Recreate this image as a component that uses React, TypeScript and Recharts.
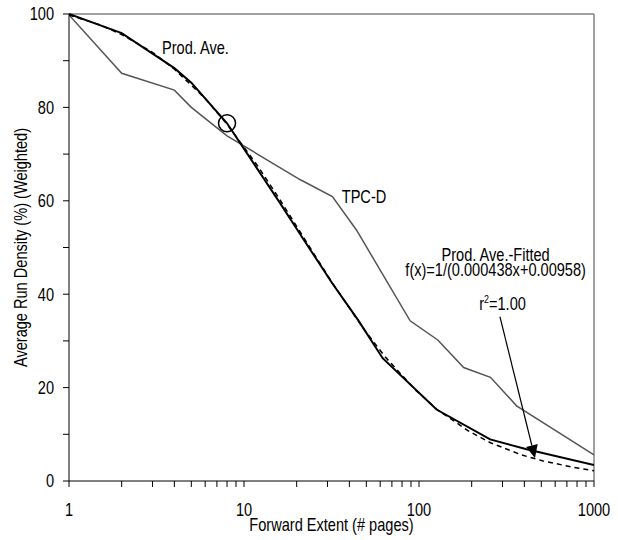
import { LineChart, Line, XAxis, YAxis, ReferenceLine, ReferenceDot, Label } from "recharts";

// Liberation Sans squeezed horizontally stands in for a narrow face
const FONT = '"Liberation Sans", Arial, sans-serif';
const FS = 18;
const SQUEEZE = 0.81;

// forward extent (pages) vs. average run density (%)
const prodExtent = [1, 2, 4, 5, 8, 16, 22, 32, 45, 62, 126, 255, 412, 1000];
const prodDensity = [100, 95.9, 88.4, 85.3, 76.6, 59.6, 51.6, 42.3, 34.4, 26.3, 15.3, 8.9, 6.8, 3.4];

const tpcExtent = [1, 2, 4, 5, 8, 21, 32, 44, 89, 128, 180, 256, 361, 1000];
const tpcDensity = [99.8, 87.3, 83.7, 80, 73.9, 64.5, 60.9, 53.7, 34.3, 30.2, 24.3, 22.2, 16.1, 5.6];

const fitExtent = [1, 1.5, 2, 3, 4, 6, 8, 12, 16, 24, 32, 48, 64, 96, 128, 192, 256, 384, 512, 768, 1000];
const fitDensity = [99.8, 97.7, 95.6, 91.8, 88.2, 81.9, 76.4, 67.4, 60.3, 49.8, 42.4, 32.7, 26.6, 19.4, 15.2, 10.7, 8.2, 5.6, 4.3, 2.9, 2.2];

const xTicks = [1, 2, 3, 4, 5, 6, 7, 8, 9, 10, 20, 30, 40, 50, 60, 70, 80, 90, 100, 200, 300, 400, 500, 600, 700, 800, 900, 1000];
const xLabels = [1, 10, 100, 1000];
const yTicks = [0, 10, 20, 30, 40, 50, 60, 70, 80, 90, 100];
const yLabels = [0, 20, 40, 60, 80, 100];

const toPoints = (xs: number[], ys: number[]) => xs.map((x, i) => ({ x, y: ys[i] }));

const prodAve = toPoints(prodExtent, prodDensity);
const tpcD = toPoints(tpcExtent, tpcDensity);
const fitted = toPoints(fitExtent, fitDensity);

// text drawn at a baseline point, condensed around it
const Narrow = ({ x, y, anchor = "middle", rotate = 0, children }: any) => (
  <text
    transform={`translate(${x}, ${y})${rotate ? ` rotate(${rotate})` : ""} scale(${SQUEEZE}, 1)`}
    textAnchor={anchor}
    fontFamily={FONT}
    fontSize={FS}
    fill="#000"
  >
    {children}
  </text>
);

const XTick = (p: any) => {
  const v = p.payload.value;
  if (!xLabels.includes(v)) return null;
  return (
    <Narrow x={p.x} y={p.y + 12.5}>
      {String(v)}
    </Narrow>
  );
};

const YTick = (p: any) => {
  const v = p.payload.value;
  if (!yLabels.includes(v)) return null;
  return (
    <Narrow x={p.x} y={p.y + 6.4} anchor="end">
      {String(v)}
    </Narrow>
  );
};

const note = (lines: string[]) => (p: any) => (
  <g>
    {lines.map((l, i) => (
      <Narrow key={i} x={p.cx} y={p.cy + i * 15.6}>
        {l}
      </Narrow>
    ))}
  </g>
);

const rSquared = (p: any) => (
  <Narrow x={p.cx} y={p.cy}>
    r<tspan dy={-7} fontSize={11}>2</tspan>
    <tspan dy={7}>=1.00</tspan>
  </Narrow>
);

const Arrow = (p: any) => {
  const { x1, y1, x2, y2 } = p;
  const dx = x2 - x1;
  const dy = y2 - y1;
  const len = Math.hypot(dx, dy);
  const ux = dx / len;
  const uy = dy / len;
  const hl = 13;
  const hw = 6;
  const bx = x2 - ux * hl;
  const by = y2 - uy * hl;
  return (
    <g>
      <line x1={x1} y1={y1} x2={bx} y2={by} stroke="#000" strokeWidth={1.2} />
      <polygon
        points={`${x2},${y2} ${bx - uy * hw},${by + ux * hw} ${bx + uy * hw},${by - ux * hw}`}
        fill="#000"
      />
    </g>
  );
};

const YTitle = (props: any) => {
  const vb = props.viewBox;
  return (
    <Narrow x={vb.x + 27} y={vb.y + vb.height / 2} rotate={-90}>
      Average Run Density (%) (Weighted)
    </Narrow>
  );
};

const XTitle = (props: any) => {
  const vb = props.viewBox;
  return (
    <Narrow x={vb.x + vb.width / 2} y={vb.y + 50}>
      Forward Extent (# pages)
    </Narrow>
  );
};

export default function App() {
  return (
    <div style={{ position: "absolute", left: 0, top: 0, width: 618, height: 540, background: "#fff" }}>
      <LineChart width={618} height={540} margin={{ top: 14, right: 24, bottom: 0, left: 0 }}>
        <XAxis
          type="number"
          dataKey="x"
          scale="log"
          domain={[1, 1000]}
          ticks={xTicks}
          interval={0}
          allowDataOverflow
          tickSize={6}
          tickMargin={16}
          height={59}
          stroke="#000"
          tick={<XTick />}
        >
          <Label content={XTitle} />
        </XAxis>
        <YAxis
          type="number"
          domain={[0, 100]}
          ticks={yTicks}
          interval={0}
          tickSize={6}
          tickMargin={9}
          width={69}
          stroke="#000"
          tick={<YTick />}
        >
          <Label content={YTitle} />
        </YAxis>

        <ReferenceLine y={100} stroke="#808080" strokeWidth={1.5} />
        <ReferenceLine x={1000} stroke="#808080" strokeWidth={1.5} />

        <Line data={tpcD} dataKey="y" type="linear" stroke="#555" strokeWidth={1.5} dot={false} isAnimationActive={false} />
        <Line data={fitted} dataKey="y" type="linear" stroke="#000" strokeWidth={1.5} strokeDasharray="5 4" dot={false} isAnimationActive={false} />
        <Line data={prodAve} dataKey="y" type="linear" stroke="#000" strokeWidth={2} dot={false} isAnimationActive={false} />

        <ReferenceDot x={8} y={76.6} r={8.5} fill="none" stroke="#000" strokeWidth={1.5} />

        <ReferenceLine segment={[{ x: 290, y: 35.2 }, { x: 460, y: 4.9 }]} shape={Arrow} />

        <ReferenceDot x={5.28} y={91.4} shape={note(["Prod. Ave."])} />
        <ReferenceDot x={48.5} y={59.5} shape={note(["TPC-D"])} />
        <ReferenceDot x={274} y={47.2} shape={note(["Prod. Ave.-Fitted", "f(x)=1/(0.000438x+0.00958)"])} />
        <ReferenceDot x={300} y={36.6} shape={rSquared} />
      </LineChart>
    </div>
  );
}
